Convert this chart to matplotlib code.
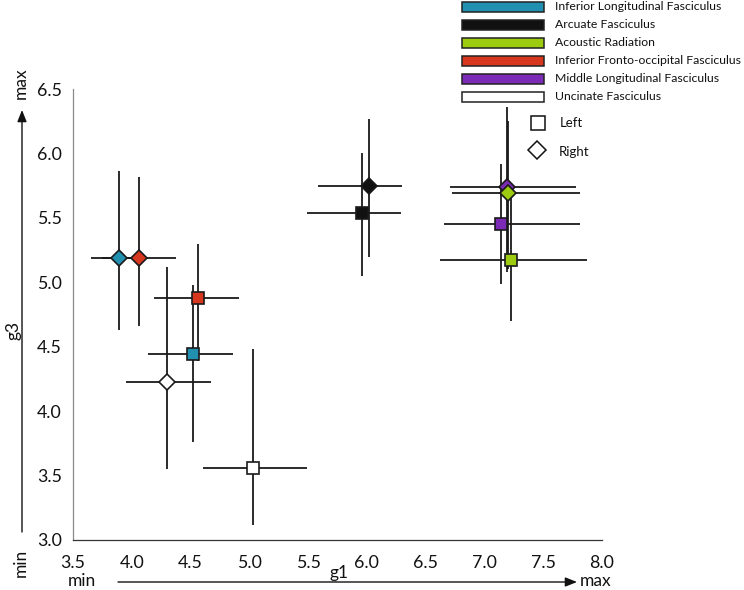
import matplotlib
matplotlib.use("Agg")
import matplotlib.pyplot as plt
from matplotlib.patches import Rectangle
from matplotlib.lines import Line2D
import numpy as np

plt.rcParams['font.family'] = ['Lato', 'DejaVu Sans']

# ---------------- data ----------------
tracts = ['Inferior Longitudinal Fasciculus', 'Arcuate Fasciculus', 'Acoustic Radiation',
          'Inferior Fronto-occipital Fasciculus', 'Middle Longitudinal Fasciculus',
          'Uncinate Fasciculus']
colors = ['#2190b0', '#111111', '#9ccb0f', '#d7361f', '#7b2bb5', '#ffffff']

# Left hemisphere (squares)
left_x = [4.52, 5.96, 7.23, 4.56, 7.14, 5.03]
left_y = [4.44, 5.54, 5.17, 4.88, 5.45, 3.56]
left_x_lo = [4.14, 5.49, 6.62, 4.19, 6.66, 4.61]
left_x_hi = [4.86, 6.29, 7.87, 4.91, 7.81, 5.49]
left_y_lo = [3.76, 5.05, 4.70, 4.39, 4.99, 3.12]
left_y_hi = [4.98, 6.00, 5.67, 5.30, 5.92, 4.48]

# Right hemisphere (diamonds)
right_x = [3.89, 6.02, 7.20, 4.06, 7.19, 4.30]
right_y = [5.19, 5.75, 5.69, 5.19, 5.74, 4.23]
right_x_lo = [3.65, 5.58, 6.72, 3.75, 6.71, 3.95]
right_x_hi = [4.13, 6.30, 7.81, 4.38, 7.78, 4.67]
right_y_lo = [4.63, 5.20, 5.10, 4.66, 5.08, 3.55]
right_y_hi = [5.86, 6.27, 6.25, 5.82, 6.36, 5.12]

xticks = [3.5, 4.0, 4.5, 5.0, 5.5, 6.0, 6.5, 7.0, 7.5, 8.0]
yticks = [3.0, 3.5, 4.0, 4.5, 5.0, 5.5, 6.0, 6.5]
hemi_labels = ['Left', 'Right']

# ---------------- figure ----------------
W, H = 744, 590
fig = plt.figure(figsize=(W / 100, H / 100), dpi=100)

def fx(px):
    return px / W

def fy(py):
    return 1 - py / H

ax = fig.add_axes([fx(73), fy(540), fx(602) - fx(73), fy(89) - fy(540)])
ax.set_xlim(3.5, 8.0)
ax.set_ylim(3.0, 6.5)
ax.set_xticks(xticks)
ax.set_yticks(yticks)
ax.set_xticklabels([f"{t:.1f}" for t in xticks])
ax.set_yticklabels([f"{t:.1f}" for t in yticks])
ax.tick_params(axis='both', length=0, labelsize=12.8, colors='#111111')
ax.tick_params(axis='x', pad=11)
ax.tick_params(axis='y', pad=8)
for s in ['top', 'right']:
    ax.spines[s].set_visible(False)
ax.spines['left'].set_color('#8a8a8a')
ax.spines['left'].set_linewidth(0.9)
ax.spines['bottom'].set_color('#333333')
ax.spines['bottom'].set_linewidth(0.9)

lw = 1.3
ecol = '#1a1a1a'
ms = 8.5
for i in range(len(tracts)):
    for (xs, ys, xlo, xhi, ylo, yhi) in [
        (left_x, left_y, left_x_lo, left_x_hi, left_y_lo, left_y_hi),
        (right_x, right_y, right_x_lo, right_x_hi, right_y_lo, right_y_hi)]:
        ax.errorbar([xs[i]], [ys[i]],
                    xerr=[[xs[i] - xlo[i]], [xhi[i] - xs[i]]],
                    yerr=[[ys[i] - ylo[i]], [yhi[i] - ys[i]]],
                    fmt='none', ecolor=ecol, elinewidth=lw, capsize=0, zorder=2)

order = [0, 1, 3, 4, 5, 2]
for k, i in enumerate(order):
    ax.plot([left_x[i]], [left_y[i]], marker='s', ms=ms, mfc=colors[i], mec='#1a1a1a',
            mew=1.2, linestyle='none', zorder=3 + k * 0.01)
    ax.plot([right_x[i]], [right_y[i]], marker='D', ms=ms, mfc=colors[i], mec='#1a1a1a',
            mew=1.2, linestyle='none', zorder=3 + k * 0.01)

# ---------------- axis labels & arrows ----------------
txt_kw = dict(fontsize=12.5, color='#111111')
fig.text(fx(339), fy(573), 'g1', ha='center', va='center', **txt_kw)
fig.text(fx(14), fy(330), 'g3', ha='center', va='center', rotation=90, **txt_kw)
fig.text(fx(82), fy(581), 'min', ha='center', va='center', **txt_kw)
fig.text(fx(596), fy(581), 'max', ha='center', va='center', **txt_kw)
fig.text(fx(21), fy(563), 'min', ha='center', va='center', rotation=90, **txt_kw)
fig.text(fx(21), fy(83), 'max', ha='center', va='center', rotation=90, **txt_kw)

arrow_kw = dict(arrowstyle='-|>,head_length=0.7,head_width=0.28', color='#111111', lw=1.0,
                shrinkA=0, shrinkB=0)
ax.annotate('', xy=(fx(577), fy(582)), xytext=(fx(118), fy(582)),
            xycoords='figure fraction', textcoords='figure fraction', arrowprops=arrow_kw,
            annotation_clip=False)
ax.annotate('', xy=(fx(22), fy(110)), xytext=(fx(22), fy(532)),
            xycoords='figure fraction', textcoords='figure fraction', arrowprops=arrow_kw,
            annotation_clip=False)

# ---------------- legend ----------------
row_y = [7, 25, 43, 61, 79, 97]
for i, name in enumerate(tracts):
    r = Rectangle((fx(462), fy(row_y[i] + 5)), fx(544) - fx(462), (10) / H,
                  transform=fig.transFigure, facecolor=colors[i], edgecolor='#222222',
                  linewidth=1.1)
    fig.add_artist(r)
    fig.text(fx(555), fy(row_y[i]), name, ha='left', va='center', fontsize=8.8, color='#111111')

fig.add_artist(Line2D([fx(538)], [fy(123)], marker='s', ms=9.4, mfc='white', mec='#111111',
                      mew=1.1, linestyle='none', transform=fig.transFigure))
fig.add_artist(Line2D([fx(537)], [fy(150)], marker='D', ms=9.0, mfc='white', mec='#111111',
                      mew=1.1, linestyle='none', transform=fig.transFigure))
fig.text(fx(560), fy(123), hemi_labels[0], ha='left', va='center', fontsize=9.5, color='#111111')
fig.text(fx(559), fy(152), hemi_labels[1], ha='left', va='center', fontsize=9.5, color='#111111')

fig.savefig('out.png', dpi=100)
